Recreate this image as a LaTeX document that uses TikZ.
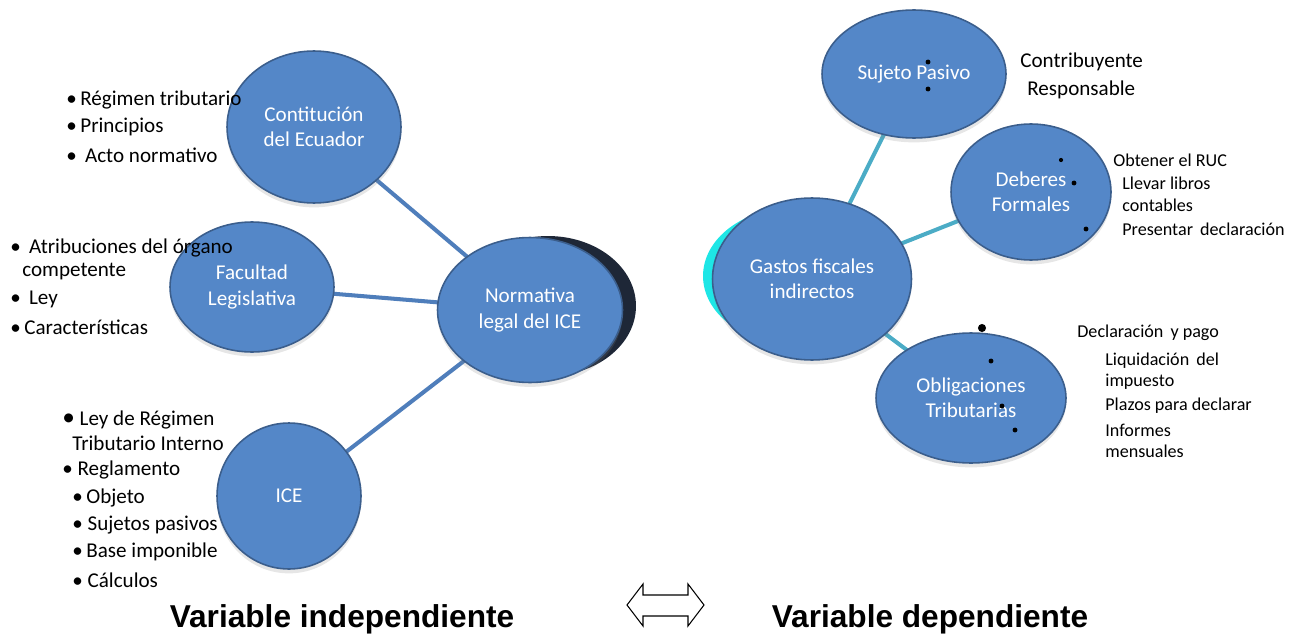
\documentclass[tikz,border=0pt]{standalone}
\usepackage{fontspec}
\setmainfont{Carlito}
\newfontfamily\titlefont{Liberation Sans}
\usetikzlibrary{shapes.geometric, shadows, backgrounds}
\definecolor{cblue}{HTML}{5487C8}
\definecolor{cedge}{HTML}{4F7EBB}
\definecolor{cteal}{HTML}{4BACC6}
\definecolor{cnavy}{HTML}{1E2737}
\definecolor{ccyan}{HTML}{1EE6E6}
\tikzset{
  bubble/.style={ellipse, draw=cblue!70!black, line width=0.9pt, fill=cblue,
    text=white, align=center, font=\fontsize{12}{14.5}\selectfont,
    drop shadow={opacity=0.2, shadow xshift=0pt, shadow yshift=-2.5pt}},
  ghost/.style={ellipse, draw=none, fill=#1},
  link/.style={draw=#1, line width=2.3pt},
  link/.default=cedge,
  item/.style={anchor=west, inner sep=0pt, font=\fontsize{12}{14}\selectfont},
  small/.style={anchor=west, inner sep=0pt, font=\fontsize{10.3}{12}\selectfont},
  dot/.style={fill=black},
  title/.style={font=\titlefont\bfseries\fontsize{18}{20}\selectfont},
}
\begin{document}
\begin{tikzpicture}[x=0.02cm, y=-0.02cm]
  \useasboundingbox (0,0) rectangle (1301,635);
  \node[ghost=cnavy, minimum width=3.52cm, minimum height=2.8cm] (nshadow) at (548,306) {};
  \node[bubble, minimum width=3.7cm, minimum height=2.9cm] (norm) at (530,310) {Normativa\\legal del ICE};
  \node[bubble, minimum width=3.48cm, minimum height=3.04cm] (cons) at (314,127) {Contitución\\del Ecuador};
  \node[bubble, minimum width=3.28cm, minimum height=2.6cm] (fac) at (252,287) {Facultad\\Legislativa};
  \node[bubble, minimum width=2.88cm, minimum height=2.92cm] (ice) at (289,496) {ICE};
  \node[ghost=ccyan, minimum width=3.6cm, minimum height=2.72cm] (gshadow) at (793,276) {};
  \node[bubble, minimum width=3.98cm, minimum height=3.24cm] (gas) at (812,279) {Gastos fiscales\\indirectos};
  \node[bubble, minimum width=3.68cm, minimum height=2.56cm] (suj) at (914,74) {Sujeto Pasivo};
  \node[bubble, minimum width=3.2cm, minimum height=2.72cm] (deb) at (1031,192) {Deberes\\Formales};
  \node[bubble, minimum width=3.8cm, minimum height=2.6cm] (obl) at (971,398) {Obligaciones\\Tributarias};
  \begin{scope}[on background layer]
    \draw[link] (cons.center) -- (norm.center);
    \draw[link] (fac.center) -- (norm.center);
    \draw[link] (ice.center) -- (norm.center);
    \draw[link=cteal] (suj.center) -- (gas.center);
    \draw[link=cteal] (deb.center) -- (gas.center);
    \draw[link=cteal] (obl.center) -- (gas.center);
  \end{scope}
  \node[item] (c1) at (66,100) {•\,Régimen tributario};
  \node[item] (c2) at (66,127) {•\,Principios};
  \node[item] (c3) at (66,155) {• \,Acto normativo};
  \node[item] (f1) at (10,248) {• \,Atribuciones del órgano};
  \node[item] (f2) at (22,272) {competente};
  \node[item] (f3) at (10,299) {• \,Ley};
  \node[item] (f4) at (10,327) {•\,Características};
  \node[item] (i1) at (62,420) {{\Large•} Ley de Régimen};
  \node[item] (i2) at (72,443) {Tributario Interno};
  \node[item] (i3) at (62,470) {• Reglamento};
  \node[item] (i4) at (72,498) {•\,Objeto};
  \node[item] (i5) at (72,525) {• Sujetos pasivos};
  \node[item] (i6) at (72,552) {•\,Base imponible};
  \node[item] (i7) at (72,580) {• Cálculos};
  \node[item] (s1) at (1020,62) {Contribuyente};
  \node[item] (s2) at (1027,90) {Responsable};
  \node[small] (d1) at (1113,160) {Obtener el RUC};
  \node[small] (d2) at (1122,183) {Llevar libros};
  \node[small] (d3) at (1122,205) {contables};
  \node[small] (d4) at (1122,229) {Presentar \,declaración};
  \node[small] (o1) at (1077,333) {Declaración \,y pago};
  \node[small] (o2) at (1105,361) {Liquidación \,del};
  \node[small] (o3) at (1105,382) {impuesto};
  \node[small] (o4) at (1105,406) {Plazos para declarar};
  \node[small] (o5) at (1105,430) {Informes};
  \node[small] (o6) at (1105,451) {mensuales};
  \fill[dot] (928,62) circle (1.4pt);
  \fill[dot] (928,89) circle (1.4pt);
  \fill[dot] (1061,160) circle (1.2pt);
  \fill[dot] (1074,183) circle (1.4pt);
  \fill[dot] (1086,229) circle (1.4pt);
  \fill[dot] (982,328) circle (2.3pt);
  \fill[dot] (991,361) circle (1.4pt);
  \fill[dot] (1002,406) circle (1.4pt);
  \fill[dot] (1015,430) circle (1.4pt);
  \node[title] (vind) at (342,619) {Variable independiente};
  \node[title] (vdep) at (930,619) {Variable dependiente};
  \draw[line width=0.6pt, line join=miter, fill=white] (627,605) -- (643,584) -- (643,595) -- (688,595) -- (688,584)
    -- (704,605) -- (688,626) -- (688,616) -- (643,616) -- (643,626) -- cycle;
\end{tikzpicture}
\end{document}
